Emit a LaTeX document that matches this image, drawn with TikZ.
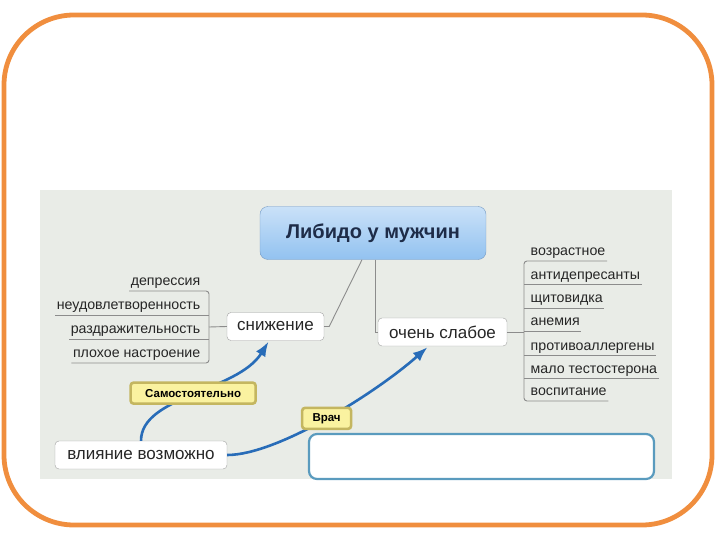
\documentclass[tikz,border=0pt]{standalone}
\usepackage{fontspec}
\setmainfont{Liberation Sans}
\usetikzlibrary{arrows.meta,calc}

\definecolor{framecol}{RGB}{240,142,62}
\definecolor{panelcol}{RGB}{233,236,231}
\definecolor{roottop}{RGB}{202,225,248}
\definecolor{rootbottom}{RGB}{146,194,240}
\definecolor{rootborder}{RGB}{120,156,196}
\definecolor{roottext}{RGB}{30,44,72}
\definecolor{nodeborder}{RGB}{160,160,160}
\definecolor{branchcol}{RGB}{140,140,140}
\definecolor{flowcol}{RGB}{40,108,184}
\definecolor{tagfill}{RGB}{250,242,160}
\definecolor{tagborder}{RGB}{196,182,96}
\definecolor{notecol}{RGB}{90,155,190}

\begin{document}
\begin{tikzpicture}[>=Latex, x=1pt, y=-1pt,
    root/.style={draw=rootborder, rounded corners=8pt, top color=roottop,
      bottom color=rootbottom, text=roottext,
      font=\fontsize{20}{24}\selectfont\bfseries,
      minimum width=226pt, minimum height=53pt},
    topic/.style={draw=nodeborder, fill=white, rounded corners=4pt,
      font=\fontsize{17}{20}\selectfont, text=black!85,
      inner sep=0pt, minimum height=28pt},
    leaf/.style={inner sep=1.5pt, text height=10.5pt, text depth=3.5pt,
      font=\fontsize{14.2}{17}\selectfont, text=black!85},
    branch/.style={draw=branchcol, line width=0.9pt},
    flow/.style={draw=flowcol, line width=2.6pt, ->},
    tag/.style={draw=tagborder, fill=tagfill, rounded corners=3pt,
      font=\fontsize{11.5}{13}\selectfont\bfseries, inner sep=0pt,
      minimum height=21pt}]

  \useasboundingbox (0,0) rectangle (720,540);

  % --------- frame and panel ----------
  \draw[framecol, line width=4.8pt, rounded corners=70pt] (4,15) rectangle (712,525);
  \fill[panelcol] (40,190) rectangle (672,479);

  % ============== Main topics =================
  \node[root] (root) at (373,233) {Либидо у мужчин};
  \node[topic, minimum width=97pt] (snizh) at (275.5,326.5) {снижение};
  \node[topic, minimum width=129pt] (slab) at (442.5,332) {очень слабое};
  \node[topic, minimum width=172pt] (vliyan) at (141,455) {влияние возможно};

  % Empty note box
  \node[draw=notecol, line width=2.2pt, fill=white, rounded corners=8pt,
    minimum width=345pt, minimum height=45pt] (note) at (481.5,456.5) {};

  % Root to topics
  \draw[branch] ([xshift=-11pt]root.south) -- ([xshift=5pt]snizh.east) -- (snizh.east);
  \draw[branch] ([xshift=2pt]root.south) |- (slab.west);

  % ============== Left leaves =================
  \node[leaf, anchor=south east] (l1) at (202,291) {депрессия};
  \node[leaf, anchor=south east] (l2) at (202,315) {неудовлетворенность};
  \node[leaf, anchor=south east] (l3) at (202,339) {раздражительность};
  \node[leaf, anchor=south east] (l4) at (202,363) {плохое настроение};

  \coordinate (lt) at (209,327);
  \draw[branch] (lt) -- (snizh.west);
  \draw[branch, rounded corners=3pt] (l1.south west) -- (l1.south east -| lt)
    -- (l4.south east -| lt) -- (l4.south west);
  \draw[branch] (l2.south west) -- (l2.south east -| lt);
  \draw[branch] (l3.south west) -- (l3.south east -| lt);

  % ============== Right leaves =================
  \node[leaf, anchor=south west] (r1) at (529,261) {возрастное};
  \node[leaf, anchor=south west] (r2) at (529,284.5) {антидепресанты};
  \node[leaf, anchor=south west] (r3) at (529,308) {щитовидка};
  \node[leaf, anchor=south west] (r4) at (529,331) {анемия};
  \node[leaf, anchor=south west] (r5) at (529,355.5) {противоаллергены};
  \node[leaf, anchor=south west] (r6) at (529,378.5) {мало тестостерона};
  \node[leaf, anchor=south west] (r7) at (529,401) {воспитание};

  \coordinate (rt) at (524,332);
  \draw[branch] (slab.east) -- (rt);
  \draw[branch, rounded corners=3pt] (r1.south east) -- (r1.south west -| rt)
    -- (r7.south west -| rt) -- (r7.south east);
  \draw[branch] (rt |- r2.south west) -- (r2.south east);
  \draw[branch] (rt |- r3.south west) -- (r3.south east);
  \draw[branch] (rt |- r4.south west) -- (r4.south east);
  \draw[branch] (rt |- r5.south west) -- (r5.south east);
  \draw[branch] (rt |- r6.south west) -- (r6.south east);

  % ============== Influence arrows =================
  \draw[flow] (vliyan.north) .. controls +(0,-45) and +(-31,50) .. ([xshift=-7pt,yshift=-1pt]snizh.south)
    node[tag, pos=.5, minimum width=125pt] (samo) {Самостоятельно};
  \draw[flow] (vliyan.east) .. controls +(50,0) and +(-52,46) .. ([xshift=-15pt,yshift=-1pt]slab.south)
    node[tag, pos=.5, minimum width=49pt] (vrach) {Врач};

\end{tikzpicture}
\end{document}
